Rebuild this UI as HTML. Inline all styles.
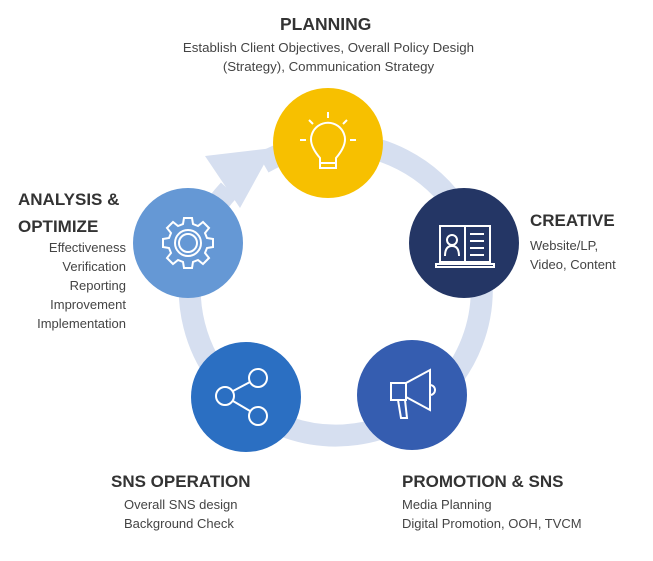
<!DOCTYPE html><html><head><style>
body{margin:0;background:#fff;width:653px;height:561px;position:relative;font-family:"Liberation Sans",Arial,sans-serif;overflow:hidden}
.t{position:absolute;color:#444;font-size:13px;line-height:19px}
.h{font-weight:bold;font-size:17px;color:#333;line-height:24px}
</style></head><body>
<svg width="653" height="561" style="position:absolute;left:0;top:0">
<path d="M 262 160 A 146 146 0 1 1 228 187" fill="none" stroke="#d6dff0" stroke-width="22" transform="translate(1,3)"/>
<polygon points="205,156 273,148 240,208" fill="#d6dff0"/>
<circle cx="328" cy="143" r="55" fill="#f7c000"/>
<circle cx="464" cy="243" r="55" fill="#243665"/>
<circle cx="412" cy="395" r="55" fill="#355db0"/>
<circle cx="246" cy="397" r="55" fill="#2b6fc2"/>
<circle cx="188" cy="243" r="55" fill="#6598d5"/>
<g fill="none" stroke="#fff" stroke-width="2">
<path d="M320 168 v-10 q-12 -14 -8 -24 a17 17 0 0 1 32 0 q4 10 -8 24 v10 z M320 163 h16"/>
<path d="M328 112 v6 M309 120 l4 4 M347 120 l-4 4 M300 140 h6 M350 140 h6"/>
<rect x="440" y="226" width="50" height="36"/><path d="M436 264 h58 v3 h-58 z M465 226 v36"/>
<circle cx="452" cy="240" r="5"/><path d="M445 256 q0 -10 7 -10 q7 0 7 10"/>
<path d="M470 234 h14 M470 241 h14 M470 248 h14 M470 255 h14"/>
<rect x="391" y="383" width="15" height="17"/><path d="M406 383 l24 -13 v40 l-24 -13 M398 400 l3 18 h6 l-2 -18 M430 385 a5 5 0 0 1 0 10"/>
<circle cx="225" cy="396" r="9"/><circle cx="258" cy="378" r="9"/><circle cx="258" cy="416" r="9"/>
<path d="M233 391 l17 -9 M233 401 l17 10"/>
<path d="M188 218 l4 0 1 6 5 2 5 -4 6 6 -4 5 2 5 6 1 v8 l-6 1 -2 5 4 5 -6 6 -5 -4 -5 2 -1 6 h-8 l-1 -6 -5 -2 -5 4 -6 -6 4 -5 -2 -5 -6 -1 v-8 l6 -1 2 -5 -4 -5 6 -6 5 4 5 -2 1 -6 z"/>
<circle cx="188" cy="243" r="13"/><circle cx="188" cy="243" r="9"/>
</g></svg>
<div class="t h" style="left:280px;top:12px;font-size:17.5px">PLANNING</div>
<div class="t" style="left:170px;top:38px;text-align:center;width:317px;font-size:13.3px">Establish Client Objectives, Overall Policy Desigh<br>(Strategy), Communication Strategy</div>
<div class="t h" style="left:530px;top:209px">CREATIVE</div>
<div class="t" style="left:530px;top:236px">Website/LP,<br>Video, Content</div>
<div class="t h" style="left:18px;top:186px;line-height:27px">ANALYSIS &amp;<br>OPTIMIZE</div>
<div class="t" style="left:10px;top:238px;width:116px;text-align:right">Effectiveness<br>Verification<br>Reporting<br>Improvement<br>Implementation</div>
<div class="t h" style="left:111px;top:470px">SNS OPERATION</div>
<div class="t" style="left:124px;top:495px">Overall SNS design<br>Background Check</div>
<div class="t h" style="left:402px;top:470px">PROMOTION &amp; SNS</div>
<div class="t" style="left:402px;top:495px">Media Planning<br>Digital Promotion, OOH, TVCM</div>
</body></html>
